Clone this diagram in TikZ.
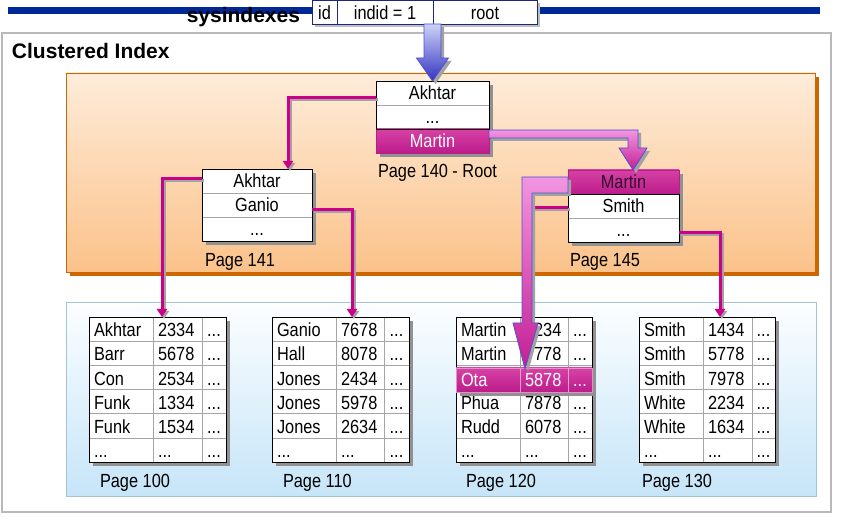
\documentclass[tikz,border=0pt]{standalone}
\usepackage{fontspec}
\setmainfont{Liberation Sans}
\newfontfamily\nf{Liberation Sans}[FakeStretch=0.86]
\usetikzlibrary{arrows.meta,calc}
\definecolor{barblue}{RGB}{0,40,150}
\definecolor{navy}{RGB}{30,40,120}
\definecolor{mag}{RGB}{204,0,136}
\definecolor{magtop}{RGB}{214,66,166}
\definecolor{magbot}{RGB}{188,28,138}
\definecolor{orgtop}{RGB}{254,236,218}
\definecolor{orgbot}{RGB}{251,194,138}
\definecolor{orgedge}{RGB}{204,102,0}
\definecolor{bltop}{RGB}{252,254,255}
\definecolor{blbot}{RGB}{198,229,248}
\definecolor{bledge}{RGB}{165,195,215}
\definecolor{framegray}{RGB}{185,185,185}
\definecolor{gridgray}{RGB}{165,165,165}
\definecolor{shadowgray}{RGB}{145,145,145}
\definecolor{pinkl}{RGB}{242,150,225}
\definecolor{pinkd}{RGB}{196,30,148}
\definecolor{arrblue}{RGB}{80,80,210}
\definecolor{bluel}{RGB}{205,210,248}
\definecolor{blued}{RGB}{52,52,192}
\definecolor{darktext}{RGB}{50,10,45}
\newcommand\dd{...}
\newcommand\leaf[6]{%
  \fill[shadowgray] ({#2+4},321) rectangle ({#5+4},466);
  \node[tbox, minimum width={(#5-#2)*1pt}] (#1) at (#2,317) {};
  \foreach \k in {1,...,5} \draw[grid] (#2,{317+\k*24.17}) -- (#5,{317+\k*24.17});
  \draw[grid] (#3,317) -- (#3,462) (#4,317) -- (#4,462);
  \draw[box] (#1.north west) rectangle (#1.south east);
  \foreach \a/\b/\c [count=\i] in {#6} {
    \node[txt, anchor=base west] (#1-a\i) at ({#2+5},{317+(\i-1)*24.17+19.8}) {\a};
    \node[txt, anchor=base west] (#1-b\i) at ({#3+5},{317+(\i-1)*24.17+19.8}) {\b};
    \node[txt, anchor=base] (#1-c\i) at ({(#4+#5)/2},{317+(\i-1)*24.17+19.8}) {\c};
  }
}
\tikzset{
  txt/.style={font=\nf\fontsize{19}{21}\selectfont, inner sep=0pt, outer sep=0pt},
  title/.style={font=\bfseries\fontsize{21}{25}\selectfont, inner sep=0pt, outer sep=0pt},
  row/.style={txt, draw=gridgray, line width=0.6pt, fill=white, minimum height=24pt,
    text height=13.8pt, text depth=0pt, anchor=north west},
  hrow/.style={row, draw=magbot, top color=magtop, bottom color=magbot, text=white},
  sxcell/.style={txt, draw=navy, line width=0.9pt, fill=white, minimum height=23.5pt,
    text height=13.8pt, text depth=0pt, anchor=north west},
  tbox/.style={fill=white, minimum height=145pt, anchor=north west, inner sep=0pt, outer sep=0pt},
  grid/.style={draw=gridgray, line width=0.6pt},
  box/.style={draw=black, line width=0.9pt},
  conn/.style={draw=mag, line width=3pt, -{Triangle[width=10pt,length=8pt]}},
  connsh/.style={draw=shadowgray!85, line width=3pt, -{Triangle[width=10pt,length=8pt]},
    transform canvas={shift={(2pt,-2pt)}}},
  lbl/.style={txt, anchor=base west},
  fatarrow/.style={top color=pinkl, bottom color=pinkd, draw=arrblue, line width=0.8pt},
  fatshadow/.style={fill=shadowgray!85, transform canvas={shift={(3pt,-3pt)}}},
}
\begin{document}
\begin{tikzpicture}[x=1pt,y=-1pt]
\useasboundingbox (0,0) rectangle (841,521);
\fill[white] (0,0) rectangle (841,521);
% outer frame and top bar
\draw[draw=framegray, line width=1.2pt, fill=white] (2,33) rectangle (831,512);
\fill[barblue] (8,7) rectangle (820,14);
\node[title, anchor=base east] (sysl) at (300,23) {sysindexes};
% sysindexes table
\fill[shadowgray!60] (315,3) rectangle (540,27);
\node[sxcell, minimum width=25pt] (sx1) at (312,0.5) {id};
\node[sxcell, minimum width=96pt] (sx2) at (sx1.north east) {indid = 1};
\node[sxcell, minimum width=104pt] (sx3) at (sx2.north east) {root};
\node[title, anchor=base west] (cl) at (12,59) {Clustered Index};
% panels
\fill[orgedge] (70,77) rectangle (819,276);
\shade[top color=orgtop, bottom color=orgbot, draw=orgedge, line width=0.8pt] (66,73) rectangle (815,272);
\shade[top color=bltop, bottom color=blbot, draw=bledge, line width=0.8pt] (66,302) rectangle (816,496);
% root page 140
\fill[shadowgray] (380,85) rectangle (493,157);
\node[row, minimum width=113pt] (r1) at (376,81) {Akhtar};
\node[row, minimum width=113pt] (r2) at (r1.south west) {\dd};
\node[hrow, minimum width=113pt] (r3) at (r2.south west) {Martin};
\draw[box] (r1.north west) rectangle (r2.south east);
\node[lbl] (l140) at (378,178) {Page 140 - Root};
% page 141
\fill[shadowgray] (206,173) rectangle (316,245);
\node[row, minimum width=110pt] (q1) at (202,169) {Akhtar};
\node[row, minimum width=110pt] (q2) at (q1.south west) {Ganio};
\node[row, minimum width=110pt] (q3) at (q2.south west) {\dd};
\draw[box] (q1.north west) rectangle (q3.south east);
\node[lbl] (l141) at (205,267) {Page 141};
% page 145
\fill[shadowgray] (572,174) rectangle (683,246);
\node[hrow, text=darktext, minimum width=111pt] (s1) at (568,170) {Martin};
\node[row, minimum width=111pt] (s2) at (s1.south west) {Smith};
\node[row, minimum width=111pt] (s3) at (s2.south west) {\dd};
\draw[box] (s2.north west) rectangle (s3.south east);
\node[lbl] (l145) at (570,267) {Page 145};
% leaf pages
\leaf{t100}{89}{153}{202}{226}{Akhtar/2334/\dd, Barr/5678/\dd, Con/2534/\dd, Funk/1334/\dd, Funk/1534/\dd, \dd/\dd/\dd}
\leaf{t110}{272}{336}{384}{409}{Ganio/7678/\dd, Hall/8078/\dd, Jones/2434/\dd, Jones/5978/\dd, Jones/2634/\dd, \dd/\dd/\dd}
\leaf{t120}{456}{520}{568}{592}{Martin/1234/\dd, Martin/7778/\dd, {}/{}/{}, Phua/7878/\dd, Rudd/6078/\dd, \dd/\dd/\dd}
\leaf{t130}{639}{703}{752}{775}{Smith/1434/\dd, Smith/5778/\dd, Smith/7978/\dd, White/2234/\dd, White/1634/\dd, \dd/\dd/\dd}
\node[lbl] (l100) at (100,487) {Page 100};
\node[lbl] (l110) at (283,487) {Page 110};
\node[lbl] (l120) at (466,487) {Page 120};
\node[lbl] (l130) at (642,487) {Page 130};
% highlighted Ota row
\fill[shadowgray] (460,372) rectangle (596,396);
\node[hrow, draw=magtop!60!white, minimum width=136pt] (ota) at (456,368) {};
\draw[draw=magtop!50!white, line width=0.6pt] (ota.north west) ++(64pt,0) coordinate (od1) (od1) -- (od1 |- ota.south);
\draw[draw=magtop!50!white, line width=0.6pt] (ota.north west) ++(112pt,0) coordinate (od2) (od2) -- (od2 |- ota.south);
\node[txt, anchor=base west, text=white] (ota-a) at (461,386.5) {Ota};
\node[txt, anchor=base west, text=white] (ota-b) at (525,386.5) {5878};
\node[txt, anchor=base, text=white] (ota-c) at (580,386.5) {\dd};
% thin connectors
\foreach \st in {connsh, conn} {
  \draw[\st] ([yshift=-5pt]r1.west) -| ([xshift=31pt]q1.north);
  \draw[\st] ([yshift=2pt]q1.west) -| ([xshift=4.5pt]t100.north);
  \draw[\st] ([yshift=-5pt]q2.east) -| ([xshift=11.5pt]t110.north);
  \draw[\st] ([yshift=-3pt]s3.east) -| ([xshift=13pt]t130.north);
  \draw[\st, -] ([yshift=-1.5pt]s2.west) -| ([xshift=3pt,yshift=-20pt]t120.north);
}
% fat arrow root -> page 145
\foreach \st in {fatshadow, fatarrow} {
  \path[\st] let \p1=(r3.north east), \p2=(s1.north) in
    (\x1,\y1-1pt) -- (\x2+14.5pt,\y1-1pt) -- (\x2+14.5pt,\y2+22pt) -- (\x2+23.5pt,\y2+22pt)
    -- (\x2+9.5pt,\y2) -- (\x2-4.5pt,\y2+22pt) -- (\x2+4.5pt,\y2+22pt) -- (\x2+4.5pt,\y1-9pt)
    -- (\x1,\y1-9pt) -- cycle;
}
% fat arrow page 145 -> Ota row
\foreach \st in {fatshadow, fatarrow} {
  \path[\st] let \p1=(s1.north west), \p2=(ota.north) in
    (\x1,\y1-7pt) -- (\x2-2pt,\y1-7pt) -- (\x2-2pt,\y2+45pt) -- (\x2-11pt,\y2+45pt)
    -- (\x2+1pt,\y2-1pt) -- (\x2+14pt,\y2+45pt) -- (\x2+8pt,\y2+45pt) -- (\x2+8pt,\y1-23pt)
    -- (\x1,\y1-23pt) -- cycle;
}
% blue arrow sysindexes -> root
\path[fatshadow] let \p1=(r1.north), \p2=(sx2.south) in
  (\x1-8.5pt,\y2) -- (\x1+8.5pt,\y2) -- (\x1+8.5pt,\y1+23pt) -- (\x1+16pt,\y1+23pt)
  -- (\x1,\y1) -- (\x1-16pt,\y1+23pt) -- (\x1-8.5pt,\y1+23pt) -- cycle;
\path[top color=bluel, bottom color=blued, draw=arrblue, line width=0.8pt] let \p1=(r1.north), \p2=(sx2.south) in
  (\x1-8.5pt,\y2) -- (\x1+8.5pt,\y2) -- (\x1+8.5pt,\y1+23pt) -- (\x1+16pt,\y1+23pt)
  -- (\x1,\y1) -- (\x1-16pt,\y1+23pt) -- (\x1-8.5pt,\y1+23pt) -- cycle;
\end{tikzpicture}
\end{document}
